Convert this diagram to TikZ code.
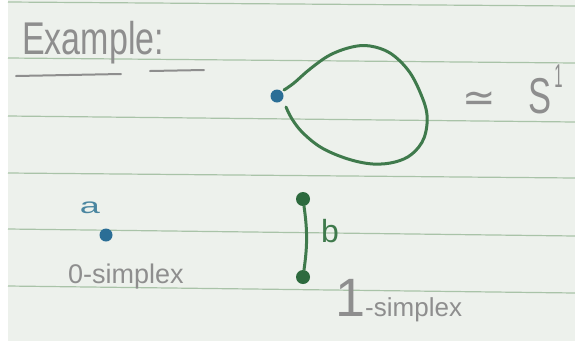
\documentclass[tikz,border=0pt]{standalone}
\usepackage{fontspec}
\setmainfont{Liberation Sans}
\newfontfamily\dejavu{DejaVu Sans}
\definecolor{paper}{HTML}{EDF1EC}
\definecolor{rule}{HTML}{A9C3A8}
\definecolor{pencil}{HTML}{8E8E8E}
\definecolor{ink}{HTML}{3F7A4C}
\definecolor{darkink}{HTML}{2D6A3E}
\definecolor{blueink}{HTML}{2B6E96}
\definecolor{lightblue}{HTML}{4A86A0}
\tikzset{
  ruled/.style={draw=rule, line width=1.2pt},
  pencilstroke/.style={draw=pencil, line width=2pt, line cap=round},
  handtext/.style={text=pencil, inner sep=0pt},
  bluedot/.style={circle, fill=blueink, minimum size=13pt, inner sep=0pt},
  greendot/.style={circle, fill=darkink, minimum size=14pt, inner sep=0pt},
  inkline/.style={draw=ink, line width=3pt, line cap=round},
}
\begin{document}
\begin{tikzpicture}[x=1pt,y=-1pt]
\useasboundingbox (0,0) rectangle (575,341);
\fill[white] (0,0) rectangle (575,341);
\fill[paper] (8,0) rectangle (575,341);
% ruled lines
\foreach \a/\b in {2/6, 58/63, 116/122, 173/178, 229/236, 286/293}
  \draw[ruled] (8,\a) -- (575,\b);
% title
\node[handtext, anchor=base west, font=\fontsize{34}{34}\selectfont] (title) at (22,54) {\scalebox{1}[1.35]{Example:}};
\draw[pencilstroke] (16,76) -- (121,74);
\draw[pencilstroke] (150,71) -- (204,70);
% loop
\node[bluedot] (v) at (277,96) {};
\coordinate (ls) at (284,90);
\coordinate (le) at (286,107);
\draw[inkline] plot[smooth, tension=0.6] coordinates {(ls) (294,83) (310,69) (330,55) (352,47) (370,46) (390,53) (408,70) (420,92) (427,115) (424,138) (412,154) (395,162) (373,164) (348,159) (322,148) (303,133) (292,119) (le)};
% ~ S^1
\node[text=pencil, inner sep=0pt, font=\dejavu\fontsize{40}{40}\selectfont] (eq) at (479,102) {≃};
\node[handtext, anchor=base west, font=\fontsize{48}{48}\selectfont] (s1) at (528,113) {\scalebox{0.72}[1.05]{S}\kern3pt\raisebox{26pt}{\fontsize{33}{33}\selectfont\scalebox{0.45}[1]{1}}};
% 0-simplex
\node[text=lightblue, inner sep=0pt, font=\fontsize{24}{24}\selectfont, anchor=base] (alab) at (90,213) {\scalebox{1.5}[0.9]{a}};
\node[bluedot] (a) at (106,235) {};
\node[handtext, anchor=base, font=\fontsize{27}{27}\selectfont] (zero) at (126,283) {0-simplex};
% 1-simplex
\node[greendot] (t) at (303,199) {};
\node[greendot] (bt) at (303,277) {};
\draw[inkline] (t) to[bend left=8] (bt);
\node[text=ink, inner sep=0pt, anchor=base, font=\fontsize{32}{32}\selectfont] (blab) at (330,242) {b};
\node[handtext, anchor=base west, font=\fontsize{26}{26}\selectfont] (one) at (335,316) {{\fontsize{54}{54}\selectfont 1}-simplex};
\end{tikzpicture}
\end{document}
